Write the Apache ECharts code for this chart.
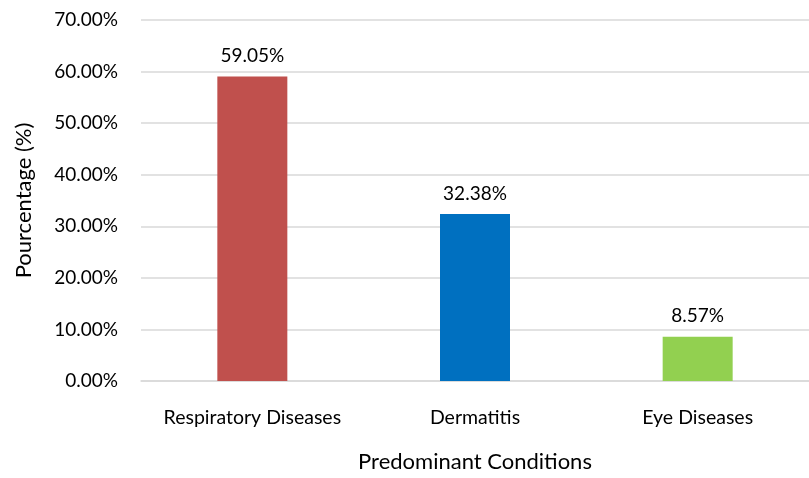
<!DOCTYPE html>
<html>
<head>
<meta charset="utf-8">
<script src="https://cdn.jsdelivr.net/npm/echarts@6/dist/echarts.min.js"></script>
<style>
  html, body { margin: 0; padding: 0; background: #fff; }
  #box { width: 809px; height: 478px; }
</style>
</head>
<body>
<div id="box"></div>
<script>
var conditions = ['Respiratory Diseases', 'Dermatitis', 'Eye Diseases'];
var percents = [59.05, 32.38, 8.57];
var barColors = ['#C0504D', '#0070C0', '#92D050'];

var chart = echarts.init(document.getElementById('box'));
var font = 'Lato, "Open Sans", sans-serif';

var option = {
  animation: false,
  grid: {
    left: 141,
    right: 0,
    top: 20,
    bottom: 93
  },
  xAxis: {
    type: 'category',
    data: conditions,
    name: 'Predominant Conditions',
    nameLocation: 'middle',
    nameGap: 70,
    nameTextStyle: { fontSize: 22, color: '#000', fontFamily: font },
    axisLine: { lineStyle: { color: '#d9d9d9', width: 1.5 } },
    axisTick: { show: false },
    axisLabel: { interval: 0, fontSize: 19.5, color: '#000', fontFamily: font, margin: 27 }
  },
  yAxis: {
    type: 'value',
    min: 0,
    max: 70,
    interval: 10,
    name: 'Pourcentage (%)',
    nameLocation: 'middle',
    nameGap: 106,
    nameTextStyle: { fontSize: 22, color: '#000', fontFamily: font },
    axisLine: { show: false },
    axisTick: { show: false },
    splitLine: { lineStyle: { color: '#d9d9d9', width: 1.5 } },
    axisLabel: {
      fontSize: 19, color: '#000', fontFamily: font, margin: 23,
      formatter: function (v) { return v.toFixed(2) + '%'; }
    }
  },
  series: [{
    type: 'bar',
    barWidth: 70,
    data: percents.map(function (v, i) {
      return { value: v, itemStyle: { color: barColors[i] } };
    }),
    label: {
      show: true,
      position: 'top',
      distance: 11,
      fontSize: 19,
      color: '#000',
      fontFamily: font,
      formatter: function (p) { return p.value.toFixed(2) + '%'; }
    }
  }]
};

chart.setOption(option);
</script>
</body>
</html>
